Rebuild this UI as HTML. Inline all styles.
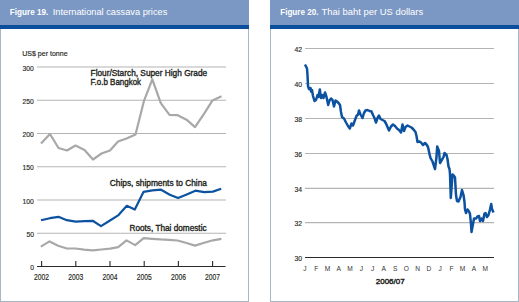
<!DOCTYPE html>
<html><head><meta charset="utf-8"><style>
html,body{margin:0;padding:0;background:#fff;}
svg{display:block;font-family:"Liberation Sans", sans-serif;}
</style></head><body>
<svg width="519" height="302" viewBox="0 0 519 302">
<rect x="0.5" y="0.5" width="248" height="301" fill="#fff" stroke="#a6b6c3" stroke-width="1"/>
<rect x="0" y="0" width="249" height="25" fill="#7b97c3"/>
<rect x="0" y="25" width="249" height="4" fill="#0b4f9c"/>
<rect x="270.5" y="0.5" width="248" height="301" fill="#fff" stroke="#a6b6c3" stroke-width="1"/>
<rect x="270" y="0" width="249" height="25" fill="#7b97c3"/>
<rect x="270" y="25" width="249" height="4" fill="#0b4f9c"/>
<text x="9.8" y="14.7" font-size="9" font-weight="bold" fill="#fff" text-anchor="start" textLength="38.5" lengthAdjust="spacingAndGlyphs">Figure 19.</text>
<text x="52.8" y="14.7" font-size="9" font-weight="normal" fill="#fff" text-anchor="start" textLength="114.5" lengthAdjust="spacingAndGlyphs">International cassava prices</text>
<text x="280.2" y="14.7" font-size="9" font-weight="bold" fill="#fff" text-anchor="start" textLength="38.3" lengthAdjust="spacingAndGlyphs">Figure 20.</text>
<text x="321.6" y="14.7" font-size="9" font-weight="normal" fill="#fff" text-anchor="start" textLength="101.6" lengthAdjust="spacingAndGlyphs">Thai baht per US dollars</text>
<text x="22.2" y="55.5" font-size="7.5" font-weight="normal" fill="#231f20" text-anchor="start" textLength="45.4" lengthAdjust="spacingAndGlyphs" stroke="#231f20" stroke-width="0.15">US$ per tonne</text>
<line x1="37" y1="233.25" x2="226" y2="233.25" stroke="#b4b4b4" stroke-width="1.1"/>
<line x1="37" y1="200.00" x2="226" y2="200.00" stroke="#b4b4b4" stroke-width="1.1"/>
<line x1="37" y1="166.75" x2="226" y2="166.75" stroke="#b4b4b4" stroke-width="1.1"/>
<line x1="37" y1="133.50" x2="226" y2="133.50" stroke="#b4b4b4" stroke-width="1.1"/>
<line x1="37" y1="100.25" x2="226" y2="100.25" stroke="#b4b4b4" stroke-width="1.1"/>
<line x1="37" y1="67.00" x2="226" y2="67.00" stroke="#b4b4b4" stroke-width="1.1"/>
<text x="33.9" y="270.2" font-size="8" font-weight="normal" fill="#231f20" text-anchor="end" textLength="3.76" lengthAdjust="spacingAndGlyphs" stroke="#231f20" stroke-width="0.15">0</text>
<text x="33.9" y="236.9" font-size="8" font-weight="normal" fill="#231f20" text-anchor="end" textLength="7.52" lengthAdjust="spacingAndGlyphs" stroke="#231f20" stroke-width="0.15">50</text>
<text x="33.9" y="203.7" font-size="8" font-weight="normal" fill="#231f20" text-anchor="end" textLength="11.28" lengthAdjust="spacingAndGlyphs" stroke="#231f20" stroke-width="0.15">100</text>
<text x="33.9" y="170.4" font-size="8" font-weight="normal" fill="#231f20" text-anchor="end" textLength="11.28" lengthAdjust="spacingAndGlyphs" stroke="#231f20" stroke-width="0.15">150</text>
<text x="33.9" y="137.2" font-size="8" font-weight="normal" fill="#231f20" text-anchor="end" textLength="11.28" lengthAdjust="spacingAndGlyphs" stroke="#231f20" stroke-width="0.15">200</text>
<text x="33.9" y="104.0" font-size="8" font-weight="normal" fill="#231f20" text-anchor="end" textLength="11.28" lengthAdjust="spacingAndGlyphs" stroke="#231f20" stroke-width="0.15">250</text>
<text x="33.9" y="70.7" font-size="8" font-weight="normal" fill="#231f20" text-anchor="end" textLength="11.28" lengthAdjust="spacingAndGlyphs" stroke="#231f20" stroke-width="0.15">300</text>
<line x1="37" y1="266.5" x2="225.5" y2="266.5" stroke="#2a2a2a" stroke-width="1.2"/>
<line x1="41.6" y1="261" x2="41.6" y2="266.5" stroke="#2a2a2a" stroke-width="1.1"/>
<text x="41.6" y="279.8" font-size="8.4" font-weight="normal" fill="#231f20" text-anchor="middle" textLength="15.0" lengthAdjust="spacingAndGlyphs" stroke="#231f20" stroke-width="0.15">2002</text>
<line x1="75.8" y1="261" x2="75.8" y2="266.5" stroke="#2a2a2a" stroke-width="1.1"/>
<text x="75.8" y="279.8" font-size="8.4" font-weight="normal" fill="#231f20" text-anchor="middle" textLength="15.0" lengthAdjust="spacingAndGlyphs" stroke="#231f20" stroke-width="0.15">2003</text>
<line x1="110.0" y1="261" x2="110.0" y2="266.5" stroke="#2a2a2a" stroke-width="1.1"/>
<text x="110.0" y="279.8" font-size="8.4" font-weight="normal" fill="#231f20" text-anchor="middle" textLength="15.0" lengthAdjust="spacingAndGlyphs" stroke="#231f20" stroke-width="0.15">2004</text>
<line x1="144.2" y1="261" x2="144.2" y2="266.5" stroke="#2a2a2a" stroke-width="1.1"/>
<text x="144.2" y="279.8" font-size="8.4" font-weight="normal" fill="#231f20" text-anchor="middle" textLength="15.0" lengthAdjust="spacingAndGlyphs" stroke="#231f20" stroke-width="0.15">2005</text>
<line x1="178.4" y1="261" x2="178.4" y2="266.5" stroke="#2a2a2a" stroke-width="1.1"/>
<text x="178.4" y="279.8" font-size="8.4" font-weight="normal" fill="#231f20" text-anchor="middle" textLength="15.0" lengthAdjust="spacingAndGlyphs" stroke="#231f20" stroke-width="0.15">2006</text>
<line x1="212.6" y1="261" x2="212.6" y2="266.5" stroke="#2a2a2a" stroke-width="1.1"/>
<text x="212.6" y="279.8" font-size="8.4" font-weight="normal" fill="#231f20" text-anchor="middle" textLength="15.0" lengthAdjust="spacingAndGlyphs" stroke="#231f20" stroke-width="0.15">2007</text>
<polyline points="41.0,143.5 50.0,134.0 58.5,148.0 67.0,150.5 75.5,145.5 84.5,150.0 93.0,159.5 101.5,153.5 110.0,150.5 118.0,141.5 126.5,138.5 135.5,134.5 144.0,100.8 152.3,79.4 160.8,103.2 169.5,114.8 177.7,115.2 186.5,119.7 195.0,127.1 204.0,113.8 212.5,100.4 221.5,96.3" fill="none" stroke="#a8a8a8" stroke-width="2.2" stroke-linejoin="round"/>
<polyline points="41.0,220.2 49.9,218.2 58.5,216.8 66.8,220.2 75.8,221.7 84.7,221.2 92.7,220.8 101.0,226.1 109.6,220.8 118.1,215.4 126.8,205.8 134.8,209.5 143.6,191.8 152.3,190.3 161.1,189.7 169.8,194.7 178.1,198.0 187.3,194.2 195.4,190.7 204.2,192.1 212.9,191.6 221.2,188.8" fill="none" stroke="#0c52a0" stroke-width="2.2" stroke-linejoin="round"/>
<polyline points="40.8,246.6 49.5,241.4 58.1,245.8 66.8,248.5 75.5,248.5 84.1,249.7 92.8,250.4 101.5,249.5 110.1,248.7 118.2,247.2 126.5,240.4 135.2,245.1 143.7,238.1 152.1,238.8 160.6,239.4 169.1,239.8 177.6,240.5 186.5,243.0 195.0,245.6 203.4,243.0 213.0,240.3 221.4,238.8" fill="none" stroke="#a8a8a8" stroke-width="2.2" stroke-linejoin="round"/>
<text x="90.6" y="75.8" font-size="8.3" font-weight="normal" fill="#231f20" text-anchor="start" textLength="116.6" lengthAdjust="spacingAndGlyphs" stroke="#231f20" stroke-width="0.35">Flour/Starch, Super High Grade</text>
<text x="90.6" y="85.0" font-size="8.3" font-weight="normal" fill="#231f20" text-anchor="start" textLength="50.5" lengthAdjust="spacingAndGlyphs" stroke="#231f20" stroke-width="0.35">F.o.b Bangkok</text>
<text x="109.8" y="185.5" font-size="8.3" font-weight="normal" fill="#231f20" text-anchor="start" textLength="97.1" lengthAdjust="spacingAndGlyphs" stroke="#231f20" stroke-width="0.35">Chips, shipments to China</text>
<text x="129.5" y="231.1" font-size="8.3" font-weight="normal" fill="#231f20" text-anchor="start" textLength="77.1" lengthAdjust="spacingAndGlyphs" stroke="#231f20" stroke-width="0.35">Roots, Thai domestic</text>
<line x1="305" y1="222.60" x2="494" y2="222.60" stroke="#b4b4b4" stroke-width="1.1"/>
<line x1="305" y1="188.40" x2="494" y2="188.40" stroke="#b4b4b4" stroke-width="1.1"/>
<line x1="305" y1="153.50" x2="494" y2="153.50" stroke="#b4b4b4" stroke-width="1.1"/>
<line x1="305" y1="118.50" x2="494" y2="118.50" stroke="#b4b4b4" stroke-width="1.1"/>
<line x1="305" y1="83.50" x2="494" y2="83.50" stroke="#b4b4b4" stroke-width="1.1"/>
<line x1="305" y1="48.50" x2="494" y2="48.50" stroke="#b4b4b4" stroke-width="1.1"/>
<text x="302" y="261.0" font-size="8" font-weight="normal" fill="#231f20" text-anchor="end" textLength="7.6" lengthAdjust="spacingAndGlyphs" stroke="#231f20" stroke-width="0.15">30</text>
<text x="302" y="226.1" font-size="8" font-weight="normal" fill="#231f20" text-anchor="end" textLength="7.6" lengthAdjust="spacingAndGlyphs" stroke="#231f20" stroke-width="0.15">32</text>
<text x="302" y="191.9" font-size="8" font-weight="normal" fill="#231f20" text-anchor="end" textLength="7.6" lengthAdjust="spacingAndGlyphs" stroke="#231f20" stroke-width="0.15">34</text>
<text x="302" y="157.0" font-size="8" font-weight="normal" fill="#231f20" text-anchor="end" textLength="7.6" lengthAdjust="spacingAndGlyphs" stroke="#231f20" stroke-width="0.15">36</text>
<text x="302" y="122.0" font-size="8" font-weight="normal" fill="#231f20" text-anchor="end" textLength="7.6" lengthAdjust="spacingAndGlyphs" stroke="#231f20" stroke-width="0.15">38</text>
<text x="302" y="87.0" font-size="8" font-weight="normal" fill="#231f20" text-anchor="end" textLength="7.6" lengthAdjust="spacingAndGlyphs" stroke="#231f20" stroke-width="0.15">40</text>
<text x="302" y="52.0" font-size="8" font-weight="normal" fill="#231f20" text-anchor="end" textLength="7.6" lengthAdjust="spacingAndGlyphs" stroke="#231f20" stroke-width="0.15">42</text>
<line x1="305" y1="257.5" x2="494" y2="257.5" stroke="#2a2a2a" stroke-width="1.2"/>
<text x="305.0" y="270.9" font-size="6.6" font-weight="normal" fill="#333" text-anchor="middle">J</text>
<text x="316.3" y="270.9" font-size="6.6" font-weight="normal" fill="#333" text-anchor="middle">F</text>
<text x="327.5" y="270.9" font-size="6.6" font-weight="normal" fill="#333" text-anchor="middle">M</text>
<text x="338.8" y="270.9" font-size="6.6" font-weight="normal" fill="#333" text-anchor="middle">A</text>
<text x="350.0" y="270.9" font-size="6.6" font-weight="normal" fill="#333" text-anchor="middle">M</text>
<text x="361.3" y="270.9" font-size="6.6" font-weight="normal" fill="#333" text-anchor="middle">J</text>
<text x="372.6" y="270.9" font-size="6.6" font-weight="normal" fill="#333" text-anchor="middle">J</text>
<text x="383.8" y="270.9" font-size="6.6" font-weight="normal" fill="#333" text-anchor="middle">A</text>
<text x="395.1" y="270.9" font-size="6.6" font-weight="normal" fill="#333" text-anchor="middle">S</text>
<text x="406.3" y="270.9" font-size="6.6" font-weight="normal" fill="#333" text-anchor="middle">O</text>
<text x="417.6" y="270.9" font-size="6.6" font-weight="normal" fill="#333" text-anchor="middle">N</text>
<text x="428.9" y="270.9" font-size="6.6" font-weight="normal" fill="#333" text-anchor="middle">D</text>
<text x="440.1" y="270.9" font-size="6.6" font-weight="normal" fill="#333" text-anchor="middle">J</text>
<text x="451.4" y="270.9" font-size="6.6" font-weight="normal" fill="#333" text-anchor="middle">F</text>
<text x="462.6" y="270.9" font-size="6.6" font-weight="normal" fill="#333" text-anchor="middle">M</text>
<text x="473.9" y="270.9" font-size="6.6" font-weight="normal" fill="#333" text-anchor="middle">A</text>
<text x="485.2" y="270.9" font-size="6.6" font-weight="normal" fill="#333" text-anchor="middle">M</text>
<text x="375.8" y="284.1" font-size="7.5" font-weight="normal" fill="#231f20" text-anchor="start" textLength="28.8" lengthAdjust="spacingAndGlyphs" stroke="#231f20" stroke-width="0.4">2006/07</text>
<polyline points="305.0,64.5 306.0,66.5 307.0,68.5 307.5,75.0 308.0,86.0 309.0,89.0 310.5,88.0 311.0,91.5 312.0,90.0 313.0,96.0 314.5,101.0 316.0,100.0 317.5,95.0 318.5,97.0 319.8,89.5 321.0,98.0 322.5,95.0 323.5,98.0 325.0,92.5 326.5,97.0 328.2,105.0 329.5,100.5 331.0,98.5 332.5,100.0 334.0,106.5 335.5,100.5 337.0,101.5 338.5,103.0 340.0,105.0 341.0,112.0 342.0,117.0 344.0,118.5 346.0,122.5 348.0,126.0 349.8,128.5 351.5,123.5 353.0,125.5 355.0,120.0 356.5,116.0 358.0,114.5 359.0,110.5 360.5,114.5 362.5,118.0 364.0,113.0 365.5,110.5 367.5,110.0 369.5,111.0 371.5,111.5 373.0,115.0 374.5,118.0 376.0,122.5 377.5,118.0 379.0,115.5 380.5,119.0 382.5,120.0 384.5,121.0 386.0,123.5 387.5,127.0 389.0,130.5 391.0,126.5 393.0,124.5 395.0,126.0 397.0,128.5 399.0,130.0 401.0,132.5 402.5,124.5 404.0,131.0 405.5,127.0 407.5,125.5 409.5,126.5 411.5,127.5 413.5,129.5 415.5,132.0 416.5,136.0 417.5,142.0 419.5,141.5 421.0,142.5 423.0,145.0 425.0,143.0 426.5,144.5 428.0,147.0 429.5,154.0 430.5,158.0 432.5,161.5 435.0,169.0 436.5,157.0 437.2,146.5 439.0,151.0 440.0,163.0 441.5,160.5 443.5,157.0 444.5,153.0 446.5,155.0 447.5,159.0 448.5,166.5 449.5,169.0 450.0,174.0 450.8,198.0 452.5,174.5 454.0,176.0 455.0,177.5 456.0,195.0 457.0,201.0 458.5,201.5 460.5,197.0 462.0,190.0 463.5,195.0 464.5,202.0 465.0,209.5 466.0,213.0 467.5,209.5 469.0,211.5 470.0,214.0 471.0,224.0 471.5,232.0 473.0,224.0 474.0,218.5 476.0,218.5 477.5,216.5 479.0,216.0 480.0,221.0 481.5,218.5 483.0,221.0 484.5,213.5 485.5,213.0 487.0,217.0 488.5,215.0 490.0,209.5 491.2,204.0 492.0,209.0 493.5,212.5" fill="none" stroke="#0c52a0" stroke-width="2.5" stroke-linejoin="round"/>
</svg>
</body></html>
